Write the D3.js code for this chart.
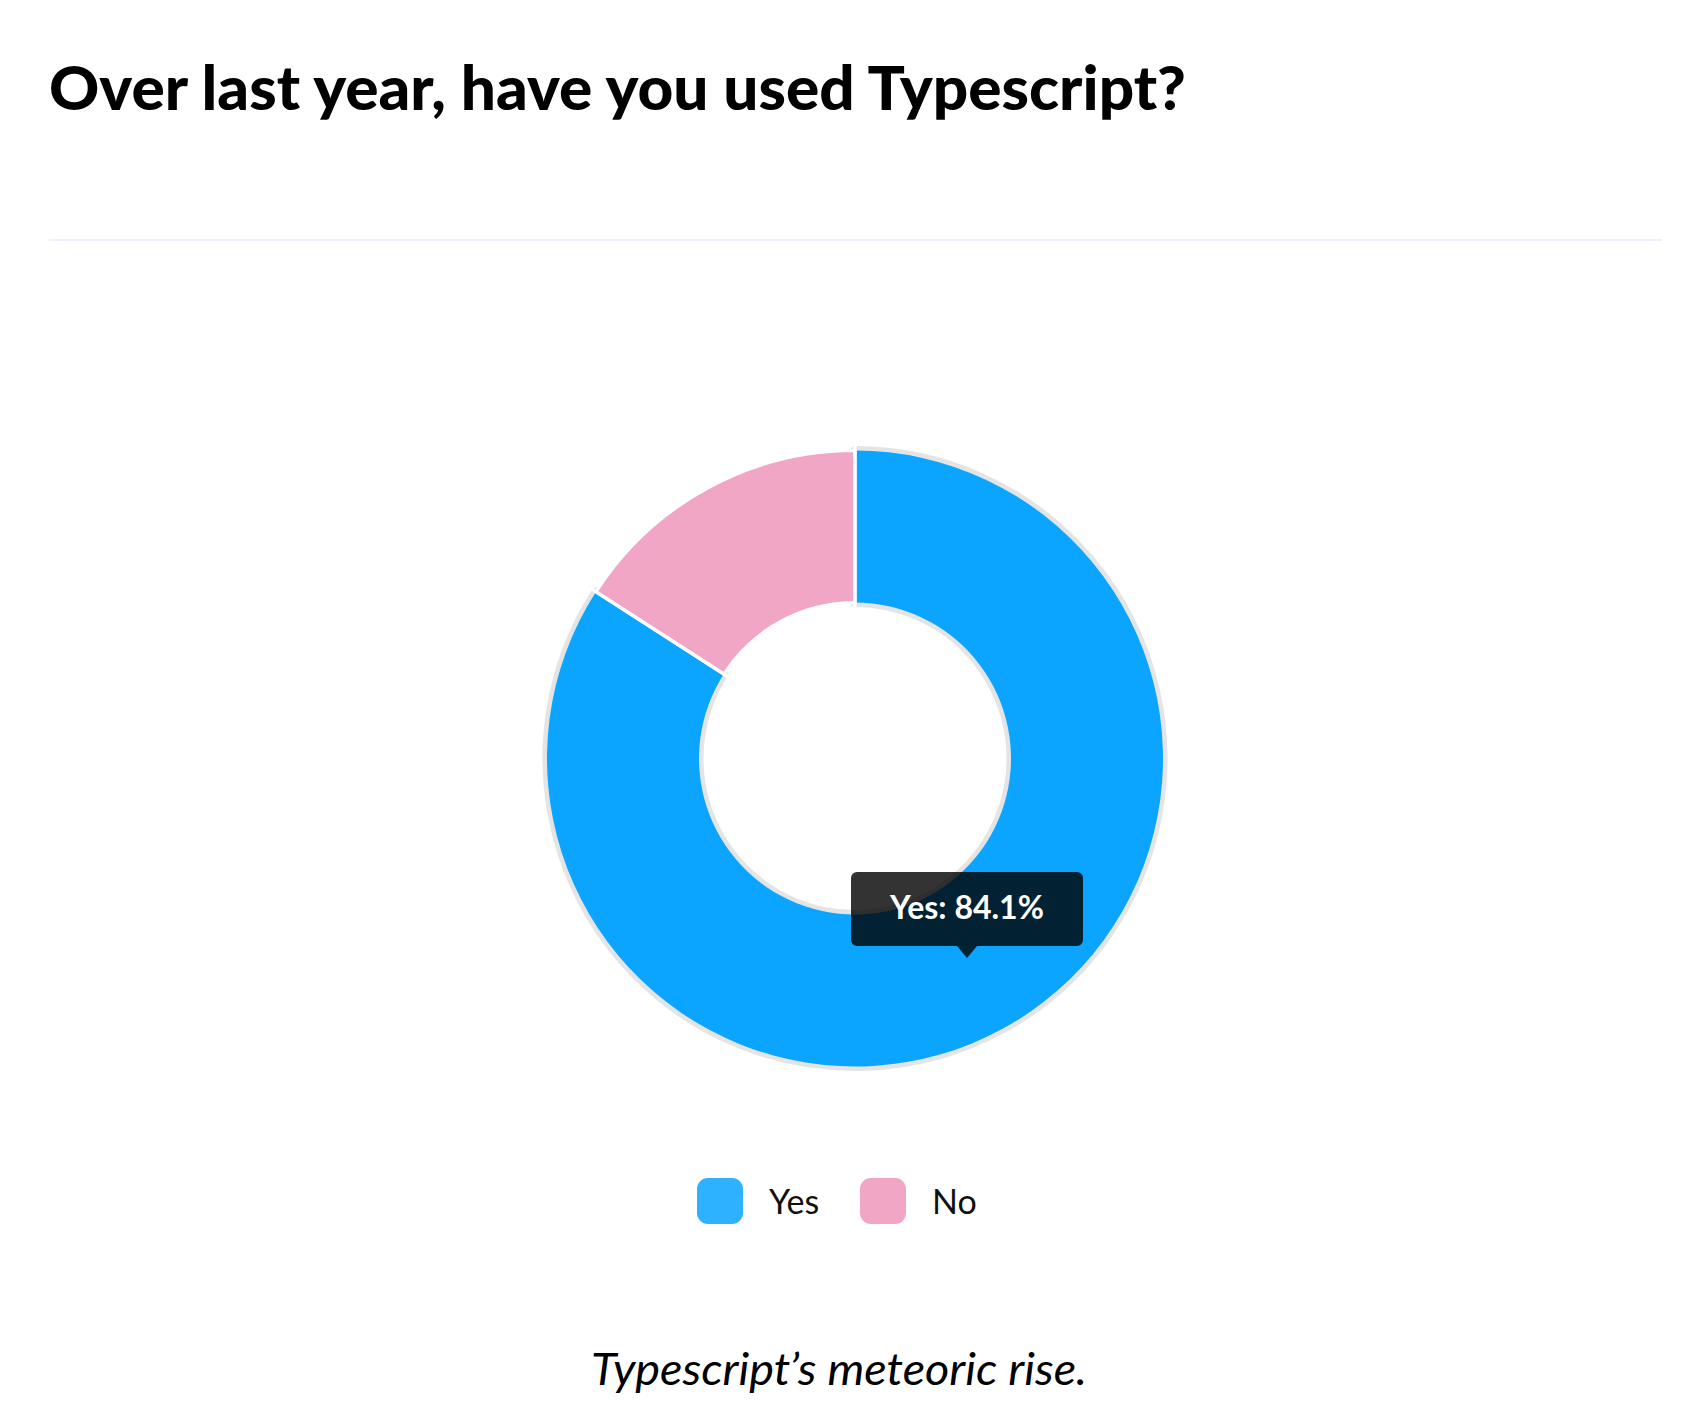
<!DOCTYPE html>
<html>
<head>
<meta charset="utf-8">
<script src="https://cdn.jsdelivr.net/npm/d3@7"></script>
<style>
  html, body { margin: 0; padding: 0; background: #fff; }
  svg { display: block; }
</style>
</head>
<body>
<svg id="chart" width="1698" height="1420"></svg>
<script>
!function(){

  // data
  var labels = ["Yes", "No"];
  var values = [84.1, 15.9];
  var colors = ["#2eb1fe", "#f1a6c5"];
  var hoverColor = "#0ba5ff";
  var title = "Over last year, have you used Typescript?";
  var caption = "Typescript\u2019s meteoric rise.";

  var svg = d3.select("#chart");

  var cx = 855, cy = 758.5;
  var outerR = 308, innerR = 156;

  // title + divider
  svg.append("text")
     .attr("x", 49)
     .attr("y", 110)
     .attr("textLength", 1137)
     .attr("lengthAdjust", "spacingAndGlyphs")
     .style("font-family", "Lato, 'Noto Sans', sans-serif")
     .style("font-weight", 900)
     .style("font-size", "60px")
     .attr("fill", "#000")
     .text(title);

  svg.append("line")
     .attr("x1", 49)
     .attr("x2", 1662)
     .attr("y1", 240)
     .attr("y2", 240)
     .attr("stroke", "#eef0fa")
     .attr("stroke-width", 2);

  var pie = d3.pie().sort(null).value(d => d)(values);
  var arc = d3.arc().innerRadius(innerR).outerRadius(outerR);

  var g = svg.append("g").attr("transform", "translate(" + cx + "," + cy + ")");

  // grey hover outline behind the active slice (Yes)
  g.append("path")
   .attr("d", arc(pie[0]))
   .attr("fill", "none")
   .attr("stroke", "#e4e4e4")
   .attr("stroke-width", 9)
   .attr("stroke-linejoin", "round");

  g.selectAll("path.slice")
   .data(pie)
   .enter()
   .append("path")
   .attr("class", "slice")
   .attr("d", arc)
   .attr("fill", (d, i) => i === 0 ? hoverColor : colors[i])
   .attr("stroke", "#fff")
   .attr("stroke-width", (d, i) => i === 0 ? 0 : 3);

  // white separators between slices
  pie.forEach(function(d) {
    var a = d.startAngle;
    g.append("line")
     .attr("x1", Math.sin(a) * (innerR - 5))
     .attr("y1", -Math.cos(a) * (innerR - 5))
     .attr("x2", Math.sin(a) * (outerR + 5))
     .attr("y2", -Math.cos(a) * (outerR + 5))
     .attr("stroke", "#fff")
     .attr("stroke-width", 3.5);
  });

  // tooltip
  var tipX = 967, tipY = 959;
  var half = 110;
  var tip = svg.append("g");
  tip.append("path")
     .attr("d", "M" + (tipX - half) + "," + (tipY - 87)
       + " h" + (half * 2) + " a6,6 0 0 1 6,6 v62 a6,6 0 0 1 -6,6 h-" + (half - 10)
       + " l-10,12 l-10,-12 h-" + (half - 10) + " a6,6 0 0 1 -6,-6 v-62 a6,6 0 0 1 6,-6 z")
     .attr("fill", "rgba(0,0,0,0.8)");
  tip.append("text")
     .attr("x", tipX)
     .attr("y", 919)
     .attr("text-anchor", "middle")
     .style("font-family", "Lato, 'Noto Sans', sans-serif")
     .style("font-weight", 700)
     .style("font-size", "32px")
     .attr("fill", "#fff")
     .text(labels[0] + ": " + values[0] + "%");

  // legend
  var legX = [697, 860];
  var legend = svg.selectAll("g.legend")
     .data(labels)
     .enter()
     .append("g")
     .attr("class", "legend")
     .attr("transform", (d, i) => "translate(" + legX[i] + ",1178)");

  legend.append("rect")
     .attr("width", 46)
     .attr("height", 46)
     .attr("rx", 11)
     .attr("fill", (d, i) => colors[i]);

  legend.append("text")
     .attr("x", 72)
     .attr("y", 36)
     .style("font-family", "Lato, 'Noto Sans', sans-serif")
     .style("font-size", "34px")
     .attr("fill", "#111")
     .text(d => d);

  // caption
  svg.append("text")
     .attr("x", 839)
     .attr("y", 1385)
     .attr("text-anchor", "middle")
     .attr("textLength", 496)
     .attr("lengthAdjust", "spacingAndGlyphs")
     .style("font-family", "Lato, 'Noto Sans', sans-serif")
     .style("font-style", "italic")
     .style("font-size", "44px")
     .attr("fill", "#000")
     .text(caption);

}();
</script>
</body>
</html>
